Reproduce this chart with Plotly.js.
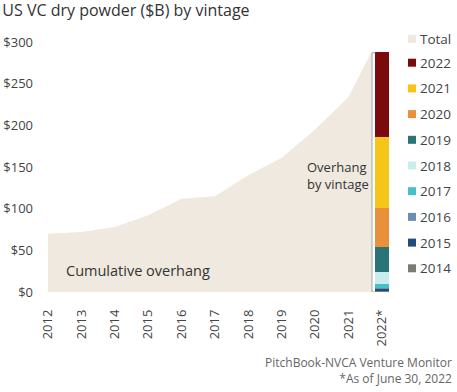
<!DOCTYPE html>
<html>
<head>
<meta charset="utf-8">
<script src="https://cdn.plot.ly/plotly-3.0.1.min.js"></script>
<style>html,body{margin:0;padding:0;background:#fff;}#chart{width:457px;height:392px;}</style>
</head>
<body>
<div id="chart"></div>
<script>
// ---- data ----
var years = ["2012","2013","2014","2015","2016","2017","2018","2019","2020","2021","2022*"];
var totalOverhang = [70, 72, 78, 92, 112, 115, 140, 161, 195, 234, 287];
var vintages = ["2014","2015","2016","2017","2018","2019","2020","2021","2022"];
var vintageValues = [0.7, 2.4, 1.8, 4.8, 14.4, 30, 46.8, 85.6, 101];
var vintageColors = ["#7b7b72","#1f4e79","#6b8db0","#45bfc9","#c9ecec","#2a7479","#e8913a","#f6c519","#7a0b0d"];
var yTicks = [0, 50, 100, 150, 200, 250, 300];
var yTickText = ["$0", "$50", "$100", "$150", "$200", "$250", "$300"];

// ---- layout helpers ----
var W = 457, H = 392;
var M = {l: 48, r: 65, t: 42, b: 100};
var plotW = W - M.l - M.r, plotH = H - M.t - M.b;
function px2x(px){ return (px - M.l) / plotW; }
function px2y(py){ return (H - M.b - py) / plotH; }

var barWidth = 0.42;
var lastIdx = years.length - 1;
var areaEndGap = 0.33;
var idx = years.map(function(_, i){ return i; });
var areaX = idx.map(function(i){ return i === lastIdx ? i - areaEndGap : i; });

var FONT = "Open Sans, sans-serif";
var TOTAL_COLOR = "#efe9df";
var traces = [];
traces.push({
  type: "scatter", mode: "lines", x: areaX, y: totalOverhang,
  fill: "tozeroy", fillcolor: TOTAL_COLOR, line: {width: 0, color: TOTAL_COLOR},
  name: "Total", hoverinfo: "skip", showlegend: false
});
vintages.forEach(function(v, i){
  traces.push({
    type: "bar", x: [lastIdx], y: [vintageValues[i]], width: barWidth,
    marker: {color: vintageColors[i], line: {width: 0}},
    name: v, showlegend: false
  });
});

// custom legend (Total first, then newest vintage to oldest)
var legendNames = ["Total"].concat(vintages.slice().reverse());
var legendColors = [TOTAL_COLOR].concat(vintageColors.slice().reverse());
var shapes = [], annotations = [];
legendNames.forEach(function(n, k){
  var cy = k === 0 ? 39 : 62.7 + 25.7 * (k - 1);
  shapes.push({type: "rect", xref: "paper", yref: "paper",
    x0: px2x(408), x1: px2x(416), y0: px2y(cy + 4), y1: px2y(cy - 4),
    fillcolor: legendColors[k], line: {width: 0}});
  annotations.push({text: n, xref: "paper", yref: "paper", x: px2x(418), y: px2y(cy),
    xanchor: "left", yanchor: "middle", showarrow: false,
    font: {family: FONT, size: 13.5, color: "#444"}});
});

// bracket beside the vintage bar
var bx = lastIdx - 0.3, bt = lastIdx - 0.2;
shapes.push({
  type: "path", xref: "x", yref: "y",
  path: "M " + bt + " " + totalOverhang[lastIdx] + " L " + bx + " " + totalOverhang[lastIdx] +
        " L " + bx + " 0 L " + bt + " 0",
  line: {color: "#9a9a9a", width: 1}
});

annotations.push(
  {text: "Cumulative overhang", xref: "x", yref: "y", x: 2.69, y: 26, showarrow: false,
   font: {family: FONT, size: 14.5, color: "#333"}},
  {text: "Overhang<br>by vintage", xref: "x", yref: "y", x: 7.69, y: 140, xanchor: "left", align: "left", showarrow: false,
   font: {family: FONT, size: 13, color: "#333"}},
  {text: "PitchBook-NVCA Venture Monitor<br>*As of June 30, 2022", xref: "paper", yref: "paper",
   x: px2x(454), y: px2y(370.5), xanchor: "right", yanchor: "middle", align: "right", showarrow: false,
   font: {family: FONT, size: 12, color: "#666"}}
);

var layout = {
  width: W, height: H,
  margin: M,
  paper_bgcolor: "#fff", plot_bgcolor: "#fff",
  barmode: "stack",
  showlegend: false,
  font: {family: FONT, size: 13, color: "#444"},
  title: {text: "US VC dry powder ($B) by vintage", x: 0.005, xanchor: "left", y: 0.974, yanchor: "middle",
          font: {family: FONT, size: 16, color: "#333"}},
  xaxis: {
    range: [0, lastIdx + 0.3], tickmode: "array", tickvals: idx, ticktext: years,
    tickangle: -90, showgrid: false, zeroline: false, showline: false, ticks: "", ticklabelstandoff: 14,
    tickfont: {family: FONT, size: 13, color: "#444"}, fixedrange: true, automargin: false
  },
  yaxis: {
    range: [0, 300], tickmode: "array", tickvals: yTicks, ticktext: yTickText,
    showgrid: false, zeroline: false, showline: false, ticks: "", ticklabelstandoff: 14,
    tickfont: {family: FONT, size: 13, color: "#444"}, fixedrange: true, automargin: false
  },
  shapes: shapes,
  annotations: annotations
};
Plotly.newPlot("chart", traces, layout, {displayModeBar: false, staticPlot: true});
</script>
</body>
</html>
